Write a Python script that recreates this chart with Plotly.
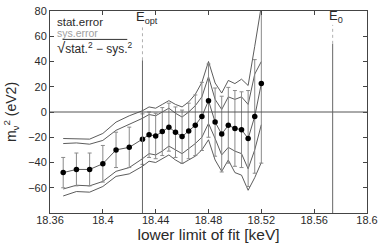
import plotly.graph_objects as go

# lower limit of fit [keV]
x_keV = [18.37, 18.38, 18.39, 18.40, 18.41, 18.42, 18.43, 18.435, 18.44, 18.445,
         18.45, 18.455, 18.46, 18.465, 18.47, 18.475, 18.48, 18.485, 18.49, 18.495,
         18.50, 18.505, 18.51, 18.515, 18.52]
# fitted m_nu^2 (eV^2)
m2 = [-48, -45.5, -45.5, -41, -30, -28, -21.5, -18, -19, -15.5,
      -12, -16, -19.5, -15, -10.5, -3.5, 9, -8, -17.5, -10.5,
      -13, -14, -21, -3.5, 22.5]
# statistical error bars
stat_err = [12, 13, 13, 14.5, 14, 16, 20, 18, 18, 19,
            19, 20, 21, 22, 24, 27, 29, 27, 30, 30,
            30, 30, 38, 45, 63]
# envelope curves
upper_outer = [-21, -21, -21.5, -17, -8, -3, 1, 4, 3, 6,
               9, 6, 4, 8, 14, 23.5, 40, 23, 15, 25,
               22.5, 26, 21, 52, 84]
upper_inner = [-25, -24.5, -25.5, -22.5, -14.5, -10, -5, -2, -3, 0,
               3, -1, -4, 0, 5, 12, 28, 10, 2, 12,
               10, 12, 6, 30, 40]
lower_inner = [-61, -58, -58.5, -55, -47, -44, -37, -33, -34, -31,
               -27, -30, -33, -29, -25, -20, -9, -21, -34, -28,
               -31, -33, -45, -30, -10]
lower_outer = [-66.5, -63, -63.5, -59, -51, -49, -43, -39, -40, -37,
               -34, -38, -41, -38, -35, -30, -22, -38, -47, -38,
               -48, -50, -62, -52, -40]

x_ticks = [18.36, 18.4, 18.44, 18.48, 18.52, 18.56, 18.6]
x_ticktext = ["18.36", "18.4", "18.44", "18.48", "18.52", "18.56", "18.6"]
y_ticks = [-60, -40, -20, 0, 20, 40, 60, 80]

E_opt = 18.43
E_0 = 18.574

FONT = "Liberation Sans"
LINE_C = "#4a4a4a"
TXT_C = "#2a2a2a"

fig = go.Figure()

for ys in (upper_outer, upper_inner, lower_inner, lower_outer):
    fig.add_trace(go.Scatter(x=x_keV, y=ys, mode="lines",
                             line=dict(color=LINE_C, width=0.9), hoverinfo="skip"))

fig.add_trace(go.Scatter(
    x=x_keV, y=m2, mode="lines+markers",
    line=dict(color=LINE_C, width=0.9),
    marker=dict(color="black", size=5.5),
    error_y=dict(type="data", array=stat_err, color="#8a8a8a", thickness=1, width=2),
))

# zero line
fig.add_shape(type="line", xref="paper", x0=0, x1=1, yref="y", y0=0, y1=0,
              line=dict(color="#555555", width=1))
# E_opt and E_0 markers
fig.add_shape(type="line", xref="x", x0=E_opt, x1=E_opt, yref="y", y0=-80, y1=41,
              line=dict(color="#666666", width=1))
fig.add_shape(type="line", xref="x", x0=E_opt, x1=E_opt, yref="y", y0=41, y1=67,
              line=dict(color="#b0b0b0", width=1, dash="dot"))
fig.add_shape(type="line", xref="x", x0=E_0, x1=E_0, yref="y", y0=-80, y1=54,
              line=dict(color="#666666", width=1))
fig.add_shape(type="line", xref="x", x0=E_0, x1=E_0, yref="y", y0=54, y1=69,
              line=dict(color="#b0b0b0", width=1, dash="dot"))

fig.add_annotation(x=E_opt, y=75, xref="x", yref="y", text="E<sub>opt</sub>",
                   showarrow=False, xanchor="left", yanchor="middle", xshift=-8,
                   font=dict(family=FONT, size=13, color=TXT_C))
fig.add_annotation(x=E_0, y=76, xref="x", yref="y", text="E<sub>0</sub>",
                   showarrow=False, xanchor="left", yanchor="middle", xshift=-6,
                   font=dict(family=FONT, size=13, color=TXT_C))

# legend text
fig.add_annotation(x=18.364, y=71, xref="x", yref="y", text="stat.error",
                   showarrow=False, xanchor="left", yanchor="middle",
                   font=dict(family=FONT, size=11.5, color=TXT_C))
fig.add_annotation(x=18.364, y=62.5, xref="x", yref="y", text="sys.error",
                   showarrow=False, xanchor="left", yanchor="middle",
                   font=dict(family=FONT, size=10.5, color="#a0a0a0"))
fig.add_annotation(x=18.364, y=51, xref="x", yref="y",
                   text="<span style='font-size:15px'>√</span>stat.<sup>2</sup> − sys.<sup>2</sup>",
                   showarrow=False, xanchor="left", yanchor="middle",
                   font=dict(family=FONT, size=12, color=TXT_C))
fig.add_shape(type="line", xref="x", x0=18.3695, x1=18.4185, yref="y", y0=57.5, y1=57.5,
              line=dict(color="#333", width=1))

fig.update_layout(
    width=382, height=251,
    margin=dict(l=50, r=15, t=11, b=38),
    paper_bgcolor="white", plot_bgcolor="white",
    showlegend=False,
    font=dict(family=FONT, size=11, color=TXT_C),
    xaxis=dict(range=[18.36, 18.6], tickvals=x_ticks, ticktext=x_ticktext,
               ticks="inside", ticklen=4, tickcolor="#444", automargin=False,
               showline=True, linecolor="#444", linewidth=1, mirror="ticks",
               showgrid=False, zeroline=False, ticklabelstandoff=-3,
               tickfont=dict(family=FONT, size=11, color=TXT_C),
               title=dict(text="lower limit of fit [keV]", standoff=2,
                          font=dict(family=FONT, size=15.5, color=TXT_C))),
    yaxis=dict(range=[-80, 80], tickvals=y_ticks,
               ticks="inside", ticklen=4, tickcolor="#444", automargin=False,
               showline=True, linecolor="#444", linewidth=1, mirror="ticks",
               showgrid=False, zeroline=False,
               tickfont=dict(family=FONT, size=11, color=TXT_C),
               title=dict(text="m<sub>ν</sub><sup>2</sup> (eV2)", standoff=8,
                          font=dict(family=FONT, size=14, color=TXT_C))),
)

fig.write_html("out.html",
               config={"displayModeBar": False},
               post_script="document.body.style.margin='0';document.body.style.padding='0';")
